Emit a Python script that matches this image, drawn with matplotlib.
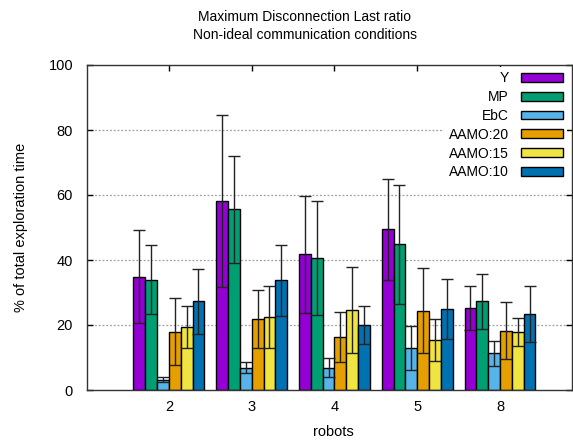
import matplotlib
matplotlib.use("Agg")
import matplotlib.pyplot as plt
import numpy as np

plt.rcParams['font.family'] = ['Liberation Sans', 'DejaVu Sans']

categories = ["2", "3", "4", "5", "8"]
series = ["Y", "MP", "EbC", "AAMO:20", "AAMO:15", "AAMO:10"]
means = {
    "Y":       [34.8, 58.2, 41.8, 49.4, 25.2],
    "MP":      [34.0, 55.6, 40.7, 44.8, 27.3],
    "EbC":     [3.2, 6.9, 6.9, 13.0, 11.3],
    "AAMO:20": [18.0, 21.9, 16.2, 24.4, 18.3],
    "AAMO:15": [19.4, 22.4, 24.7, 15.4, 17.8],
    "AAMO:10": [27.3, 33.7, 20.0, 24.9, 23.3],
}
errors = {
    "Y":       [14.3, 26.4, 18.0, 15.5, 6.7],
    "MP":      [10.7, 16.5, 17.5, 18.3, 8.4],
    "EbC":     [0.7, 1.6, 2.9, 6.8, 3.8],
    "AAMO:20": [10.4, 8.9, 7.7, 13.0, 8.9],
    "AAMO:15": [6.4, 9.5, 13.3, 6.6, 4.4],
    "AAMO:10": [10.0, 10.9, 5.7, 9.2, 8.6],
}
colors = ["#9400d3", "#009e73", "#56b4e9", "#e69f00", "#f0e442", "#0072b2"]

W, H = 573, 441
fig = plt.figure(figsize=(W / 100, H / 100), dpi=100)
ax = fig.add_axes([87 / W, 1 - 390 / H, (572 - 87) / W, (390 - 65) / H])

x = np.arange(len(categories))
n = len(series)
bw = 1.0 / (n + 1)
for i, (s, c) in enumerate(zip(series, colors)):
    xs = x + (i - (n - 1) / 2) * bw
    ax.bar(xs, means[s], width=bw, color=c, edgecolor="black", linewidth=1,
           label=s, zorder=2)
    ax.errorbar(xs, means[s], yerr=errors[s], fmt="none", ecolor="#222222",
                elinewidth=1, capsize=4.3, capthick=1, zorder=3)

ax.set_xlim(-0.99, 4.87)
ax.set_ylim(0, 100)
ax.set_xticks(x)
ax.set_xticklabels(categories)
ax.set_yticks([0, 20, 40, 60, 80, 100])
ax.tick_params(direction="in", length=4, width=1, top=True, right=True,
               labelsize=10.5, colors="black")
ax.tick_params(axis="x", pad=7)
ax.tick_params(axis="y", pad=10)
for yv in [20, 40, 60, 80]:
    ax.axhline(yv, color="#a0a0a0", linestyle=(0, (1.5, 1.5)), linewidth=0.9, zorder=1)
for sp in ax.spines.values():
    sp.set_linewidth(1)
    sp.set_color("#333333")

ax.set_xlabel("robots", fontsize=10.5, labelpad=8)
ax.xaxis.set_label_coords(333 / W, 1 - 432 / H, transform=fig.transFigure)
ax.xaxis.label.set_va("center")
ax.set_ylabel("% of total exploration time", fontsize=10.5)
ax.yaxis.set_label_coords(21 / W, 1 - 227 / H, transform=fig.transFigure)
ax.yaxis.label.set_va("center")

fig.text(305 / W, 1 - 17 / H, "Maximum Disconnection Last ratio", ha="center",
         va="center", fontsize=10)
fig.text(305 / W, 1 - 35 / H, "Non-ideal communication conditions", ha="center",
         va="center", fontsize=10)

leg = ax.legend(loc="upper right", bbox_to_anchor=(567 / W, 1 - 67 / H),
                bbox_transform=fig.transFigure, markerfirst=False,
                frameon=True, fontsize=10, handlelength=3.0, handleheight=0.6,
                labelspacing=0.35, handletextpad=0.9, borderpad=0.3,
                borderaxespad=0)
leg.get_frame().set_facecolor("white")
leg.get_frame().set_edgecolor("none")
leg.get_frame().set_alpha(1)
for t in leg.get_texts():
    t.set_ha("right")
leg._legend_box.align = "right"

fig.savefig("out.png", dpi=100)
